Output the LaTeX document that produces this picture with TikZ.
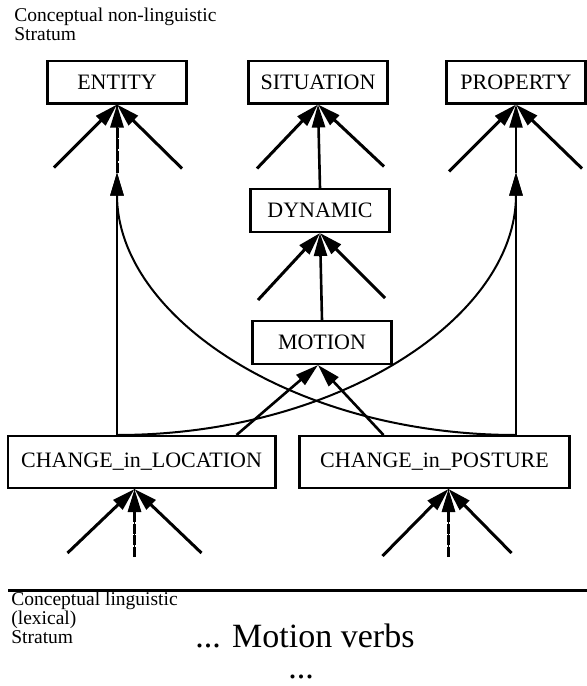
\documentclass[tikz,border=0pt]{standalone}
\usepackage{fontspec}
\setmainfont{Liberation Serif}
\usetikzlibrary{arrows.meta}

\begin{document}
\begin{tikzpicture}[x=0.5pt, y=-0.5pt,
    box/.style={draw, line width=1.2pt, minimum width=69.5pt, minimum height=21.3pt, inner sep=0pt, font=\fontsize{11}{13}\selectfont},
    bigbox/.style={box, minimum height=25.8pt},
    tip/.style={-{Triangle[length=11.5pt, width=6.5pt]}},
    stub/.style={tip, line width=1.5pt},
    dstub/.style={stub, dash pattern=on 5pt off 0.8pt},
    link/.style={tip, line width=1.3pt},
    crosslink/.style={tip, line width=1pt},
    stratum/.style={anchor=north west, inner sep=0pt, align=left, font=\fontsize{9.75}{9.5}\selectfont},
    verbs/.style={anchor=base west, inner sep=0pt, font=\fontsize{17}{20}\selectfont}]
    \useasboundingbox (0, 0) rectangle (587, 686);

    % upper stratum
    \node[stratum] (upper) at (14, 7.7) {Conceptual non-linguistic\\Stratum};

    \node[box] (entity) at (117, 82) {ENTITY};
    \node[box] (situation) at (318, 82) {SITUATION};
    \node[box] (property) at (516, 82) {PROPERTY};
    \node[box] (dynamic) at (320, 210.5) {DYNAMIC};
    \node[box] (motion) at (322, 342.5) {MOTION};
    \node[bigbox, minimum width=133.8pt] (location) at (141.5, 462) {CHANGE\_in\_LOCATION};
    \node[bigbox, minimum width=135pt] (posture) at (434.5, 462) {CHANGE\_in\_POSTURE};

    \coordinate (entity-tip) at ([yshift=-34pt]entity.south);
    \coordinate (property-tip) at ([yshift=-34pt]property.south);
    \coordinate (location-in) at ([xshift=-3.5pt]location.south);
    \coordinate (posture-in) at ([xshift=7pt]posture.south);

    % open links into the boxes
    \draw[stub] ([shift={(-63, 63)}]entity.south) -- (entity.south);
    \draw[line width=0.6pt] (entity-tip) -- (entity.south);
    \draw[dstub] (entity-tip) -- (entity.south);
    \draw[stub] ([shift={(65, 64)}]entity.south) -- (entity.south);
    \draw[stub] ([shift={(-61, 64)}]situation.south) -- (situation.south);
    \draw[stub] ([shift={(66, 62)}]situation.south) -- (situation.south);
    \draw[stub] ([shift={(-67, 67)}]property.south) -- (property.south);
    \draw[link, line width=1pt] (property-tip) -- (property.south);
    \draw[stub] ([shift={(66, 64)}]property.south) -- (property.south);
    \draw[stub] ([shift={(-62, 67)}]dynamic.south) -- (dynamic.south);
    \draw[stub] ([shift={(65, 65)}]dynamic.south) -- (dynamic.south);
    \draw[stub] ([shift={(-67, 64)}]location-in) -- (location-in);
    \draw[line width=0.6pt] ([shift={(0, 68)}]location-in) -- (location-in);
    \draw[dstub] ([shift={(0, 68)}]location-in) -- (location-in);
    \draw[stub] ([shift={(67, 64)}]location-in) -- (location-in);
    \draw[stub] ([shift={(-66, 67)}]posture-in) -- (posture-in);
    \draw[line width=0.6pt] ([shift={(0, 68)}]posture-in) -- (posture-in);
    \draw[dstub] ([shift={(0, 68)}]posture-in) -- (posture-in);
    \draw[stub] ([shift={(63, 64)}]posture-in) -- (posture-in);

    % is-a links
    \draw[link] (dynamic.north) -- (situation.south);
    \draw[link] (motion.north) -- (dynamic.south);
    \draw[link] ([xshift=47.5pt]location.north) -- ([xshift=-2pt]motion.south);
    \draw[link] ([xshift=-25.5pt]posture.north) -- ([xshift=-2pt]motion.south);
    \draw[link] (location.north -| entity-tip) -- (entity-tip);
    \draw[link] (posture.north -| property-tip) -- (property-tip);
    \draw[crosslink] (location.north -| entity-tip) .. controls +(221, 0) and +(0, 145) .. (property-tip);
    \draw[crosslink] (posture.north -| property-tip) .. controls +(-221, 0) and +(0, 145) .. (entity-tip);

    % lower stratum
    \draw[line width=1.5pt] (8, 590) -- (587, 590);
    \node[stratum] (lower) at (11, 591.7) {Conceptual linguistic\\(lexical)\\Stratum};
    \node[verbs] (verbs) at (195, 647) {... Motion verbs};
    \node[verbs] (more) at (288, 678) {...};
\end{tikzpicture}
\end{document}
